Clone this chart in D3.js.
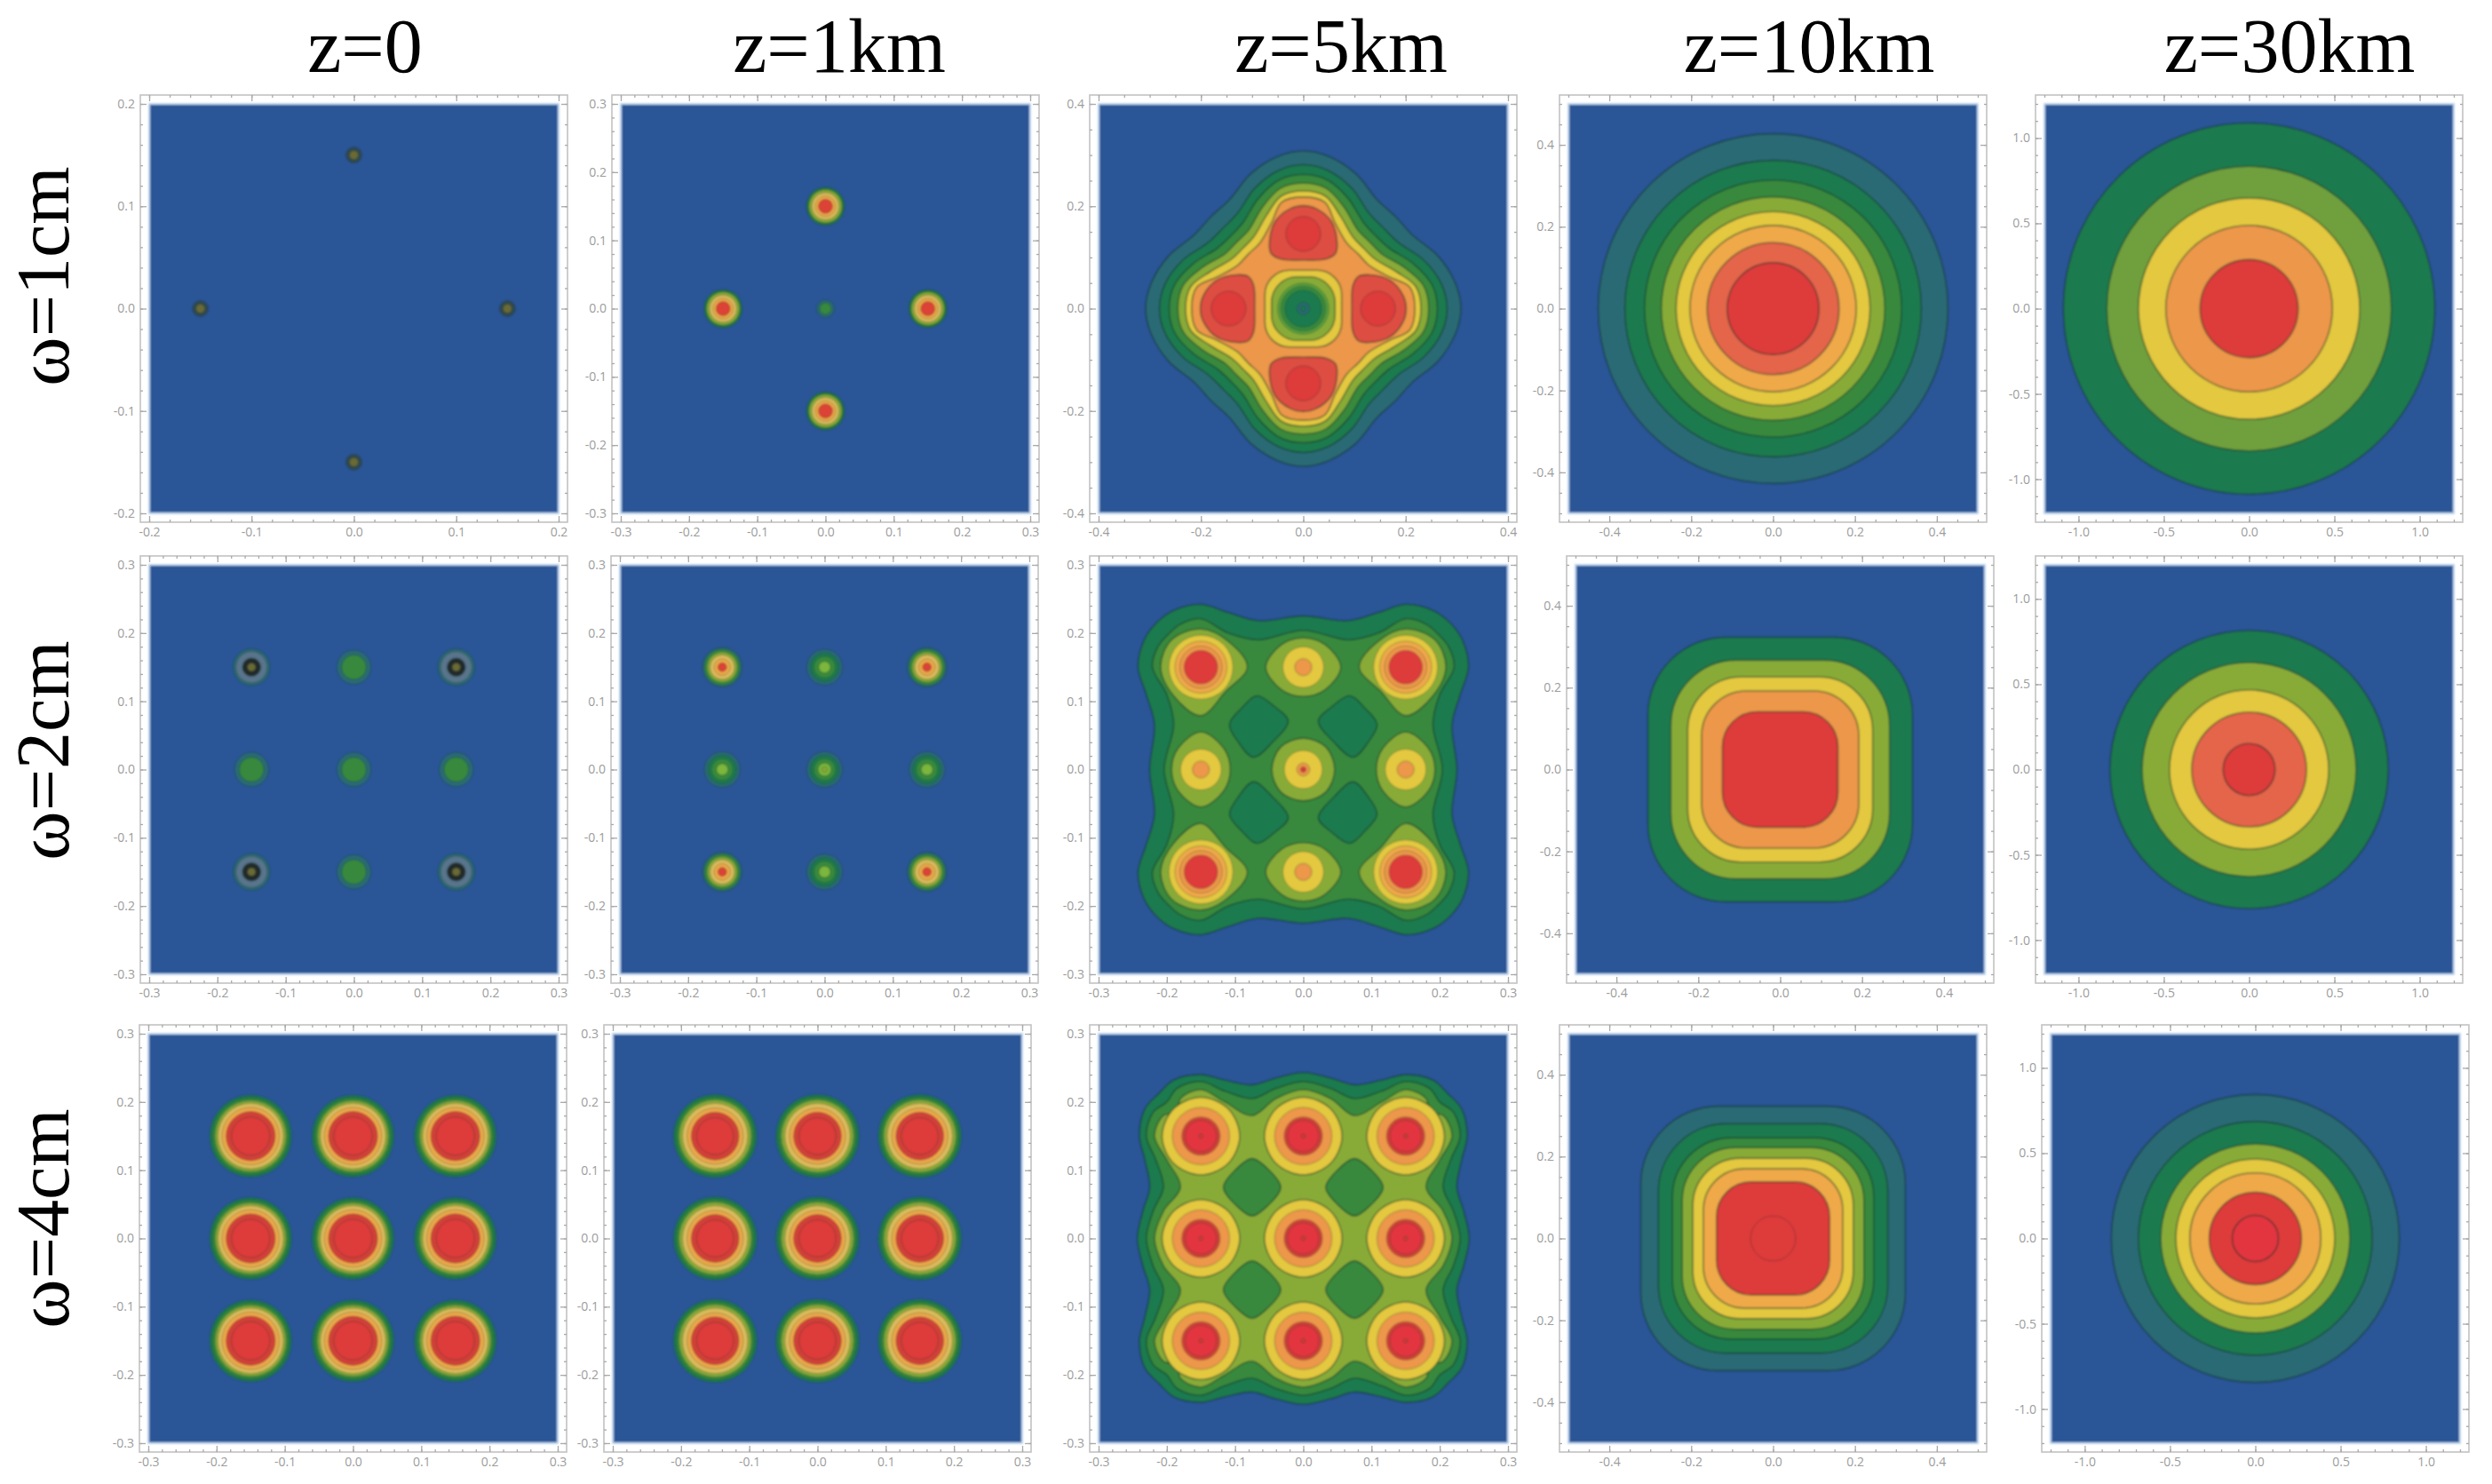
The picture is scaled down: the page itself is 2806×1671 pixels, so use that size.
<!DOCTYPE html>
<html>
<head>
<meta charset="utf-8">
<title>Contours</title>
<script src="https://cdn.jsdelivr.net/npm/d3@7"></script>
<style>
  html, body { margin: 0; background: #fff; }
  svg { display: block; }
</style>
</head>
<body>
<svg id="chart" width="2806" height="1671"></svg>
<script>
// Labels
const colLabels = ["z=0", "z=1km", "z=5km", "z=10km", "z=30km"];
const rowLabels = ["ω=1cm", "ω=2cm", "ω=4cm"];

// Half range of both axes, one row per ω
const halfRanges = [
  [0.2, 0.3, 0.4, 0.5, 1.2],
  [0.3, 0.3, 0.3, 0.5, 1.2],
  [0.3, 0.3, 0.3, 0.5, 1.2]
];

// Tick labels per half range
const ticks02 = [-0.2, -0.1, 0, 0.1, 0.2];
const ticks03 = [-0.3, -0.2, -0.1, 0, 0.1, 0.2, 0.3];
const ticks04 = [-0.4, -0.2, 0, 0.2, 0.4];
const ticks05 = [-0.4, -0.2, 0, 0.2, 0.4];
const ticks12 = [-1, -0.5, 0, 0.5, 1];

// Emitter positions
const diamondSpots = [[0.15, 0], [-0.15, 0], [0, 0.15], [0, -0.15]];
const cornerSpots = [[0.15, 0.15], [-0.15, 0.15], [0.15, -0.15], [-0.15, -0.15]];
const edgeSpotsH = [[0.15, 0], [-0.15, 0]];
const edgeSpotsV = [[0, 0.15], [0, -0.15]];
const centreSpot = [[0, 0]];
const gridSpots = [...cornerSpots, ...edgeSpotsH, ...edgeSpotsV, ...centreSpot];
const saddles = [[0.075, 0.075], [-0.075, 0.075], [0.075, -0.075], [-0.075, -0.075]];

// Contour radii, [band, radius], outermost first
const w1z0Rings = [["dusk", 0.0078], ["moss", 0.0043]];
const w1z1Rings = [["pine", 0.028], ["green", 0.026], ["olive", 0.024], ["tan", 0.02], ["amber", 0.015], ["scarlet", 0.0105]];
const w1z1Centre = [["slate", 0.013], ["green", 0.0085]];
const w2z0Corner = [["slate", 0.027], ["haze", 0.023], ["ink", 0.0135], ["moss", 0.006]];
const w2z0Edge = [["slate", 0.025], ["green", 0.018]];
const w2z1Corner = [["slate", 0.029], ["green", 0.026], ["olive", 0.022], ["tan", 0.018], ["amber", 0.012], ["scarlet", 0.0065]];
const w2z1Edge = [["slate", 0.026], ["pine", 0.021], ["green", 0.016], ["lime", 0.0085]];
const w2z1Centre = [["slate", 0.026], ["pine", 0.021], ["green", 0.016], ["lime", 0.0095], ["olive", 0.004]];
const w4z0Rings = [["pine", 0.06], ["green", 0.056], ["olive", 0.052], ["tan", 0.048], ["amber", 0.042], ["brick", 0.036], ["red", 0.028]];
const w4z1Rings = [["pine", 0.061], ["green", 0.057], ["olive", 0.053], ["tan", 0.048], ["amber", 0.041], ["brick", 0.035], ["red", 0.027]];
const w1z10Rings = [["slate", 0.427], ["pine", 0.362], ["green", 0.314], ["olive", 0.273], ["yellow", 0.237], ["amber", 0.203], ["coral", 0.161], ["red", 0.112]];
const w1z30Rings = [["pine", 1.088], ["fern", 0.834], ["yellow", 0.649], ["orange", 0.488], ["red", 0.287]];
const w2z30Rings = [["pine", 0.815], ["olive", 0.627], ["yellow", 0.467], ["coral", 0.336], ["red", 0.152]];
const w4z30Rings = [["slate", 0.844], ["pine", 0.685], ["olive", 0.554], ["yellow", 0.466], ["amber", 0.384], ["red", 0.27], ["crimson", 0.135]];

// Rounded square contours, [band, half width, corner radius]
const w2z10Squares = [["pine", 0.323, 0.19], ["olive", 0.267, 0.16], ["yellow", 0.226, 0.13], ["orange", 0.192, 0.11], ["red", 0.141, 0.085]];
const w4z10Squares = [["slate", 0.323, 0.19], ["pine", 0.28, 0.165], ["green", 0.246, 0.145], ["olive", 0.222, 0.13], ["yellow", 0.196, 0.115], ["amber", 0.17, 0.1], ["red", 0.138, 0.085]];
const w4z10Centre = [["red", 0.055]];

// z=5km, ω=1cm: contour points for one octant, from the x axis to the diagonal
const w1z5Outline = [
  ["slate", [[0.308, 0], [0.297, 0.05], [0.263, 0.103], [0.213, 0.144], [0.18, 0.18]]],
  ["pine", [[0.281, 0], [0.27, 0.048], [0.235, 0.095], [0.187, 0.128], [0.157, 0.157]]],
  ["green", [[0.262, 0], [0.252, 0.046], [0.215, 0.088], [0.168, 0.118], [0.142, 0.142]]],
  ["olive", [[0.245, 0], [0.235, 0.045], [0.198, 0.08], [0.153, 0.107], [0.13, 0.13]]],
  ["yellow", [[0.23, 0], [0.22, 0.043], [0.182, 0.072], [0.14, 0.097], [0.118, 0.118]]],
  ["orange", [[0.218, 0], [0.208, 0.042], [0.168, 0.062], [0.128, 0.085], [0.107, 0.107]]]
];
const w1z5Lobe = [[0.095, 0], [0.097, 0.045], [0.108, 0.063], [0.13, 0.066], [0.17, 0.055], [0.195, 0.026], [0.201, 0], [0.195, -0.026], [0.17, -0.055], [0.13, -0.066], [0.108, -0.063], [0.097, -0.045]];
const w1z5LobeCore = [["red", 0.034]];
const w1z5HoleSquares = [["yellow", 0.075, 0.048], ["olive", 0.062, 0.05]];
const w1z5HoleRings = [["sprout", 0.05], ["green", 0.044], ["pine", 0.036], ["slate", 0.012], ["pine", 0.005]];

// z=5km, ω=2cm
const w2z5Outline = [
  ["pine", [[0.225, 0], [0.218, 0.066], [0.23, 0.11], [0.242, 0.15], [0.233, 0.19], [0.215, 0.215]]],
  ["green", [[0.204, 0], [0.19, 0.066], [0.2, 0.11], [0.221, 0.15], [0.213, 0.18], [0.198, 0.198]]]
];
const w2z5Saddle = [[0.068, 0.108], [0.09, 0.09], [0.108, 0.066], [0.095, 0.04], [0.073, 0.018], [0.045, 0.04], [0.022, 0.071], [0.042, 0.092]];
// corner spot, drawn for the +x +y quadrant, tips point at the centre
const w2z5CornerCap = [[0.059, 0], [0.043, 0.04], [0, 0.056], [-0.04, 0.038], [-0.068, 0], [-0.036, -0.036], [0, -0.071], [0.04, -0.042]];
const w2z5CornerRings = [["yellow", 0.047], ["amber", 0.038], ["orange", 0.031], ["red", 0.0245]];
const w2z5EdgeCap = [[0.055, 0], [0.032, 0.033], [0, 0.043]];
const w2z5EdgeRings = [["yellow", 0.03], ["orange", 0.0125]];
const w2z5CentreCap = [[0.046, 0], [0.033, 0.033], [0, 0.046]];
const w2z5CentreRings = [["yellow", 0.028], ["orange", 0.0095], ["brick", 0.004]];

// z=5km, ω=4cm
const w4z5Outline = [
  ["pine", [[0.243, 0], [0.235, 0.04], [0.225, 0.075], [0.232, 0.115], [0.24, 0.15], [0.232, 0.19], [0.212, 0.212]]],
  ["green", [[0.23, 0], [0.22, 0.04], [0.205, 0.075], [0.216, 0.115], [0.23, 0.15], [0.22, 0.185], [0.2, 0.2]]],
  ["olive", [[0.218, 0], [0.205, 0.04], [0.18, 0.075], [0.2, 0.115], [0.218, 0.15], [0.205, 0.18], [0.185, 0.185]]]
];
const w4z5Saddle = [[0.042, 0], [0.025, 0.025], [0, 0.042]];
const w4z5Cap = [[0.057, 0], [0.04, 0.04], [0, 0.057]];
const w4z5Rings = [["orange", 0.042], ["brick", 0.028], ["crimson", 0.023], ["brick", 0.003]];

// Band colours
const bandColors = {
  blue: "#2b5596", slate: "#2b6a74", haze: "#58748c", ink: "#24292c", dusk: "#2f4a50", moss: "#6a6a34",
  pine: "#1f7a50", green: "#37893d", sprout: "#5a9e3c", lime: "#7cb63c", fern: "#70a03c", olive: "#88ab39",
  tan: "#dcbb5c", yellow: "#e3c83f", amber: "#efa949", orange: "#ec974a", coral: "#e4654a", rust: "#dd4d42",
  brick: "#d13f38", scarlet: "#dc4334", red: "#de3a3b", crimson: "#e3363f"
};

// Blue square of every panel on the page: left edge per row and column, top per row
const panelLeft = [
  [168, 699, 1237, 1766, 2302],
  [168, 698, 1237, 1774, 2302],
  [167, 690, 1237, 1766, 2309]
];
const panelTop = [117, 636, 1164];
const panelSize = 461;
const framePad = 10;

// shape helpers, everything stays in data units
function quadLoop(q) {
  const b = q.slice(0, -1).reverse().map(([x, y]) => [-x, y]);
  const c = q.slice(1).map(([x, y]) => [-x, -y]);
  const d = q.slice(1, -1).reverse().map(([x, y]) => [x, -y]);
  return [...q, ...b, ...c, ...d];
}
function octLoop(pts) {
  return quadLoop([...pts, ...pts.slice(0, -1).reverse().map(([x, y]) => [y, x])]);
}
// copies a shape to each centre, flipped so that it faces the same way in each quadrant
function placed(pts, centres) {
  return centres.map(([cx, cy]) => {
    const sx = cx < 0 ? -1 : 1, sy = cy < 0 ? -1 : 1;
    return pts.map(([x, y]) => [cx + sx * x, cy + sy * y]);
  });
}
const discs = (rings, at) => rings.map(([band, r]) => ({ kind: "disc", band, r, at }));
const squares = list => list.map(([band, half, corner]) => ({ kind: "square", band, half, corner }));
const loops = (band, list) => ({ kind: "loop", band, loops: list });
const outlines = list => list.map(([band, pts]) => loops(band, [octLoop(pts)]));
const fourWay = pts => [pts, pts.map(([x, y]) => [-x, y]), pts.map(([x, y]) => [y, x]), pts.map(([x, y]) => [y, -x])];

const panelItems = [
  [
    discs(w1z0Rings, diamondSpots),
    [...discs(w1z1Rings, diamondSpots), ...discs(w1z1Centre, centreSpot)],
    [
      ...outlines(w1z5Outline),
      loops("rust", fourWay(w1z5Lobe)),
      ...discs(w1z5LobeCore, [[0.146, 0], [-0.146, 0], [0, 0.146], [0, -0.146]]),
      ...squares(w1z5HoleSquares),
      ...discs(w1z5HoleRings, centreSpot)
    ],
    discs(w1z10Rings, centreSpot),
    discs(w1z30Rings, centreSpot)
  ],
  [
    [...discs(w2z0Corner, cornerSpots), ...discs(w2z0Edge, [...edgeSpotsH, ...edgeSpotsV, ...centreSpot])],
    [...discs(w2z1Corner, cornerSpots), ...discs(w2z1Edge, [...edgeSpotsH, ...edgeSpotsV]), ...discs(w2z1Centre, centreSpot)],
    [
      ...outlines(w2z5Outline),
      loops("pine", placed(w2z5Saddle, cornerSpots.map(([x, y]) => [Math.sign(x) * 0.0001, Math.sign(y) * 0.0001]))),
      loops("olive", placed(w2z5CornerCap, cornerSpots)),
      ...discs(w2z5CornerRings, cornerSpots),
      loops("olive", [...placed(quadLoop(w2z5EdgeCap), edgeSpotsV), ...placed(quadLoop(w2z5EdgeCap.map(([x, y]) => [y, x]).reverse()), edgeSpotsH)]),
      ...discs(w2z5EdgeRings, [...edgeSpotsH, ...edgeSpotsV]),
      loops("olive", placed(quadLoop(w2z5CentreCap), centreSpot)),
      ...discs(w2z5CentreRings, centreSpot)
    ],
    squares(w2z10Squares),
    discs(w2z30Rings, centreSpot)
  ],
  [
    discs(w4z0Rings, gridSpots),
    discs(w4z1Rings, gridSpots),
    [
      ...outlines(w4z5Outline),
      loops("green", placed(quadLoop(w4z5Saddle), saddles)),
      loops("yellow", placed(quadLoop(w4z5Cap), gridSpots)),
      ...discs(w4z5Rings, gridSpots)
    ],
    [...squares(w4z10Squares), ...discs(w4z10Centre, centreSpot)],
    discs(w4z30Rings, centreSpot)
  ]
];

const svg = d3.select("#chart");
const defs = svg.append("defs");
defs.append("filter").attr("id", "soft")
  .attr("x", "-5%").attr("y", "-5%").attr("width", "110%").attr("height", "110%")
  .append("feGaussianBlur").attr("stdDeviation", 1);

const ticksFor = { 0.2: ticks02, 0.3: ticks03, 0.4: ticks04, 0.5: ticks05, 1.2: ticks12 };
const minorFor = { 0.2: 0.02, 0.3: 0.02, 0.4: 0.05, 0.5: 0.05, 1.2: 0.1 };
const fmt = v => v.toFixed(1);

function styleAxis(sel, labelled) {
  sel.select(".domain").remove();
  sel.selectAll("line").attr("stroke", "#a9a9a9").attr("stroke-width", 1.3);
  sel.selectAll("text").attr("fill", "#9c9c9c");
  sel.attr("font-family", "'Open Sans', sans-serif").attr("font-size", labelled ? 14 : 0);
}

function drawFrame(g, x, y, half) {
  const major = ticksFor[half];
  const step = minorFor[half];
  const minor = d3.range(-Math.round(half / step), Math.round(half / step) + 1).map(i => i * step);
  const far = panelSize + framePad;

  g.append("rect")
    .attr("x", -framePad).attr("y", -framePad)
    .attr("width", panelSize + 2 * framePad).attr("height", panelSize + 2 * framePad)
    .attr("fill", "#fff").attr("stroke", "#c2c2c2").attr("stroke-width", 1.6);

  const sides = [
    [d3.axisLeft(y), `translate(${-framePad},0)`, true],
    [d3.axisBottom(x), `translate(0,${far})`, true],
    [d3.axisTop(x), `translate(0,${-framePad})`, false],
    [d3.axisRight(y), `translate(${far},0)`, false]
  ];
  sides.forEach(([axis, transform, labelled]) => {
    g.append("g").attr("transform", transform)
      .call(axis.tickValues(minor).tickFormat("").tickSizeInner(-3).tickSizeOuter(0))
      .call(styleAxis, false);
    g.append("g").attr("transform", transform)
      .call(axis.tickValues(major).tickFormat(labelled ? fmt : "").tickSizeInner(-7).tickPadding(6))
      .call(styleAxis, labelled);
  });
}

function drawItems(g, items, x, y) {
  const line = d3.line().x(d => x(d[0])).y(d => y(d[1])).curve(d3.curveCatmullRomClosed.alpha(0.5));
  const unit = x(1) - x(0);
  const strokeFor = item => item.kind === "disc" && item.r < 0.07 ? 0.6 : 1.6;

  items.forEach(item => {
    let marks;
    if (item.kind === "disc") {
      marks = g.append("g").selectAll("circle").data(item.at).join("circle")
        .attr("cx", d => x(d[0])).attr("cy", d => y(d[1]))
        .attr("r", item.r * unit);
    } else if (item.kind === "square") {
      marks = g.append("rect")
        .attr("x", x(-item.half)).attr("y", y(item.half))
        .attr("width", 2 * item.half * unit).attr("height", 2 * item.half * unit)
        .attr("rx", item.corner * unit);
    } else {
      marks = g.append("g").selectAll("path").data(item.loops).join("path").attr("d", line);
    }
    marks.attr("fill", bandColors[item.band])
      .attr("stroke", "#0f2f26").attr("stroke-opacity", 0.55)
      .attr("stroke-width", strokeFor(item));
  });
}

halfRanges.forEach((row, r) => {
  row.forEach((half, c) => {
    const x = d3.scaleLinear().domain([-half, half]).range([0, panelSize]);
    const y = d3.scaleLinear().domain([-half, half]).range([panelSize, 0]);
    const g = svg.append("g").attr("transform", `translate(${panelLeft[r][c]},${panelTop[r]})`);

    drawFrame(g, x, y, half);

    const plot = g.append("g").attr("filter", "url(#soft)");
    plot.append("rect").attr("width", panelSize).attr("height", panelSize)
      .attr("fill", bandColors.blue).attr("stroke", "#bcd4ee").attr("stroke-width", 2);
    drawItems(plot, panelItems[r][c], x, y);
  });
});

// column and row headings
const colCentres = [411, 945, 1510, 2037, 2578];
const rowCentres = [311, 845, 1372];

svg.append("g").selectAll("text").data(colLabels).join("text")
  .attr("x", (d, i) => colCentres[i]).attr("y", 81)
  .attr("text-anchor", "middle")
  .attr("font-family", "'Liberation Serif', serif").attr("font-size", 86).attr("fill", "#000")
  .text(d => d);

svg.append("g").selectAll("text").data(rowLabels).join("text")
  .attr("transform", (d, i) => `translate(77,${rowCentres[i]}) rotate(-90)`)
  .attr("text-anchor", "middle")
  .attr("font-family", "'Liberation Serif', serif").attr("font-size", 84).attr("fill", "#000")
  .text(d => d);
</script>
</body>
</html>
